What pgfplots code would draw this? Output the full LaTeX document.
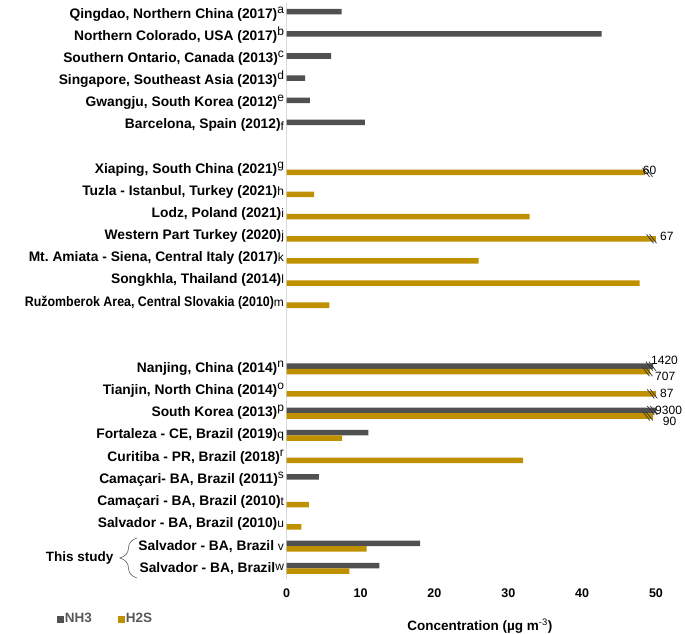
\documentclass[border=0pt]{standalone}
\usepackage{fontspec}
\setmainfont{Liberation Sans}
\usepackage{pgfplots}
\pgfplotsset{compat=1.18}
\usetikzlibrary{decorations.pathreplacing}
\definecolor{nh}{RGB}{80,80,80}
\definecolor{hs}{RGB}{191,144,0}
\definecolor{lg}{RGB}{89,89,89}
\newcommand\up[1]{\smash{\raisebox{5pt}{\mdseries\fontsize{12}{12}\selectfont #1}}}
\newcommand\dn[1]{{\mdseries\fontsize{12}{12}\selectfont #1}}
\pgfdeclareplotmark{brk}{%
 \pgfpathmoveto{\pgfqpoint{-5pt}{4.5pt}}\pgfpathlineto{\pgfqpoint{2pt}{-4.5pt}}%
 \pgfpathmoveto{\pgfqpoint{-2pt}{4.5pt}}\pgfpathlineto{\pgfqpoint{5pt}{-4.5pt}}%
 \pgfusepathqstroke}
\begin{document}
\frenchspacing
\begin{tikzpicture}
\begin{axis}[
 name=ax, at={(0,0)}, anchor=south west,
 scale only axis, width=369.3pt, height=576pt,
 xmin=0, xmax=50, ymin=-0.5, ymax=25.5,
 clip=false,
 axis lines*=left,
 x axis line style={draw=none},
 y axis line style={draw=black!15, -},
 tick style={draw=none},
 xtick={0,10,20,30,40,50},
 xticklabels={0,10,20,30,40,50},
 xticklabel style={font=\fontsize{12.5}{12.5}\selectfont\bfseries, inner sep=0pt, yshift=-9pt},
 ytick={0,...,25},
 yticklabels={
  {Salvador - BA, Brazil\raisebox{2pt}{\dn{w}}},
  {Salvador - BA, Brazil \dn{v}},
  {Salvador - BA, Brazil (2010)\dn{u}},
  {Camaçari - BA, Brazil (2010)\dn{t}},
  {Camaçari- BA, Brazil (2011)\up{s}},
  {Curitiba - PR, Brazil (2018)\up{r}},
  {Fortaleza - CE, Brazil (2019)\dn{q}},
  {South Korea (2013)\up{p}},
  {Tianjin, North China (2014)\up{o}},
  {Nanjing, China (2014)\up{n}},
  {},
  {},
  {\scalebox{0.9}[1]{Ružomberok Area, Central Slovakia (2010)}\dn{m}},
  {Songkhla, Thailand (2014)\dn{l}},
  {Mt. Amiata - Siena, Central Italy (2017)\dn{k}},
  {Western Part Turkey (2020)\dn{j}},
  {Lodz, Poland (2021)\dn{i}},
  {Tuzla - Istanbul, Turkey (2021)\dn{h}},
  {Xiaping, South China (2021)\up{g}},
  {},
  {Barcelona, Spain (2012)\raisebox{-2pt}{\dn{f}}},
  {Gwangju, South Korea (2012)\up{e}},
  {Singapore, Southeast Asia (2013)\up{d}},
  {Southern Ontario, Canada (2013)\up{c}},
  {Northern Colorado, USA (2017)\up{b}},
  {Qingdao, Northern China (2017)\up{a}}
 },
 yticklabel style={font=\fontsize{13.8}{13.8}\selectfont\bfseries, inner sep=0pt, xshift=-2.5pt},
 xlabel={Concentration (µg m\textsuperscript{\mdseries -3})},
 xlabel style={at={(axis description cs:0.523,-0.081)}, anchor=center, font=\fontsize{13.5}{13.5}\selectfont\bfseries},
 legend style={at={(axis description cs:-0.492,-0.0688)}, anchor=center, draw=none, fill=none,
   legend columns=2, font=\fontsize{13.5}{13.5}\selectfont\bfseries, text=lg,
   /tikz/every even column/.append style={column sep=25pt}, nodes={inner sep=1pt}},
 legend image code/.code={\fill[#1] (0pt,-3.5pt) rectangle (7pt,3.5pt);},
]
\addplot[xbar, bar width=0.25, bar shift=0pt, fill=nh, draw=none] coordinates {
 (7.45,25.125) (42.65,24.125) (6.0,23.125) (2.5,22.125) (3.15,21.125) (10.6,20.125)
 (49.6,9.125) (50,7.125) (11.05,6.125) (4.37,4.125) (18.05,1.125) (12.54,0.125)
};
\addlegendentry{NH3}
\addplot[xbar, bar width=0.25, bar shift=0pt, fill=hs, draw=none] coordinates {
 (48.5,17.875) (3.7,16.875) (32.9,15.875) (50,14.875) (26.0,13.875) (47.8,12.875) (5.77,11.875)
 (49.2,8.875) (50,7.875) (49.6,6.875) (7.5,5.875) (32.0,4.875) (3.0,2.875) (2.0,1.875)
 (10.83,0.875) (8.48,-0.125)
};
\addlegendentry{H2S}
\addplot[only marks, mark=brk, mark options={draw=black!80, line width=0.7pt}, forget plot] coordinates {
 (48.85,17.875) (49.4,14.875) (49.3,9.125) (48.85,8.875) (49.5,7.875) (49.5,7.125) (48.9,6.875)
};
\addplot[draw=none, mark=none, forget plot, nodes near coords, point meta=explicit symbolic,
  every node near coord/.style={anchor=west, inner sep=0pt, font=\fontsize{12}{12}\selectfont}]
  table[meta=l] {
x y l
48.2 17.98 60
50.54 15.0 67
49.32 9.4 1420
49.87 8.65 707
50.54 7.9 87
49.87 7.14 9300
50.9 6.62 90
};
\node[font=\fontsize{13.5}{13.5}\selectfont\bfseries] at (axis description cs:-0.561,0.0372) {This study};
\draw[decorate, decoration={brace, amplitude=17pt}, draw=lg, line width=0.6pt]
  (axis description cs:-0.4054,0.0024) -- (axis description cs:-0.4054,0.0719);
\end{axis}
\pgfresetboundingbox
\path[use as bounding box] (-286.7pt,-54.6pt) rectangle (398.3pt,579.4pt);
\end{tikzpicture}
\end{document}
